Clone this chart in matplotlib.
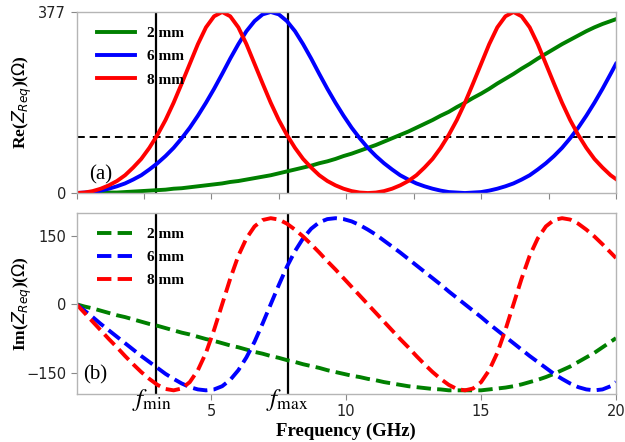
import matplotlib
matplotlib.use("Agg")
import matplotlib.pyplot as plt

# frequency samples (GHz) and impedance
freq = [0, 0.3, 0.6, 0.9, 1.2, 1.5, 1.8, 2.1, 2.4, 2.7, 3.0, 3.3, 3.6, 3.9, 4.2, 4.5,
        4.8, 5.1, 5.4, 5.7, 6.0, 6.3, 6.6, 6.9, 7.2, 7.5, 7.8, 8.1, 8.4, 8.7, 9.0, 9.3,
        9.6, 9.9, 10.2, 10.5, 10.8, 11.1, 11.4, 11.7, 12.0, 12.3, 12.6, 12.9, 13.2, 13.5,
        13.8, 14.1, 14.4, 14.7, 15.0, 15.3, 15.6, 15.9, 16.2, 16.5, 16.8, 17.1, 17.4, 17.7,
        18.0, 18.3, 18.6, 18.9, 19.2, 19.5, 19.8, 20.0]

re_2mm = [0, 0, 0, 1, 1, 1, 2, 3, 4, 5, 6, 7, 9, 10, 12, 14, 16, 18, 20, 23, 25, 28, 31, 34,
          37, 41, 45, 49, 53, 57, 62, 66, 71, 77, 82, 88, 94, 100, 107, 114, 121, 128, 136,
          144, 152, 161, 169, 179, 188, 198, 207, 217, 228, 238, 248, 259, 269, 280, 290,
          300, 310, 319, 328, 337, 345, 352, 358, 362]
re_6mm = [0, 1, 2, 5, 9, 14, 20, 28, 37, 49, 62, 77, 94, 114, 136, 161, 188, 217, 248, 280,
          310, 337, 358, 372, 377, 372, 358, 337, 310, 280, 248, 217, 188, 161, 136, 114, 94,
          77, 62, 49, 37, 28, 20, 14, 9, 5, 2, 1, 0, 1, 2, 5, 9, 14, 20, 28, 37, 49, 62, 77,
          94, 114, 136, 161, 188, 217, 248, 269]
re_8mm = [0, 1, 4, 9, 16, 25, 37, 53, 71, 94, 121, 152, 188, 228, 269, 310, 345, 368, 377,
          368, 345, 310, 269, 228, 188, 152, 121, 94, 71, 53, 37, 25, 16, 9, 4, 1, 0, 1, 4, 9,
          16, 25, 37, 53, 71, 94, 121, 152, 188, 228, 269, 310, 345, 368, 377, 368, 345, 310,
          269, 228, 188, 152, 121, 94, 71, 53, 37, 29]

im_2mm = [0, -5, -9, -14, -19, -24, -28, -33, -38, -43, -47, -52, -57, -62, -66, -71, -76,
          -80, -85, -90, -94, -99, -104, -108, -113, -117, -122, -126, -131, -135, -139, -144,
          -148, -152, -156, -159, -163, -166, -170, -173, -176, -179, -181, -183, -185, -186,
          -188, -188, -188, -188, -188, -186, -184, -182, -179, -175, -170, -165, -159, -152,
          -144, -136, -126, -116, -106, -94, -82, -74]
im_6mm = [0, -14, -28, -43, -57, -71, -85, -99, -113, -126, -139, -152, -163, -173, -181,
          -186, -188, -186, -179, -165, -144, -116, -82, -42, 0, 42, 82, 116, 144, 165, 179,
          186, 188, 186, 181, 173, 163, 152, 139, 126, 113, 99, 85, 71, 57, 43, 28, 14, 0,
          -14, -28, -43, -57, -71, -85, -99, -113, -126, -139, -152, -163, -173, -181, -186,
          -188, -186, -179, -170]
im_8mm = [0, -19, -38, -57, -76, -94, -113, -131, -148, -163, -176, -185, -188, -184, -170,
          -144, -106, -56, 0, 56, 106, 144, 170, 184, 188, 185, 176, 163, 148, 131, 113, 94,
          76, 57, 38, 19, 0, -19, -38, -57, -76, -94, -113, -131, -148, -163, -176, -185,
          -188, -184, -170, -144, -106, -56, 0, 56, 106, 144, 170, 184, 188, 185, 176, 163,
          148, 131, 113, 101]

labels = ["2 mm", "6 mm", "8 mm"]
colors = ["green", "blue", "red"]
f_min = 2.96
f_max = 7.84
re_level = 117

serif = "Liberation Serif"
spine_col = "#b5b5b5"
leg_font = {"family": serif, "weight": "bold", "size": 11}

fig = plt.figure(figsize=(6.25, 4.42), dpi=100)
ax1 = fig.add_axes([0.1224, 0.5633, 0.8632, 0.4096])
ax2 = fig.add_axes([0.1224, 0.1086, 0.8632, 0.4102])

for ax in (ax1, ax2):
    for s in ax.spines.values():
        s.set_color(spine_col)
        s.set_linewidth(1.0)
    ax.tick_params(colors="#888888", labelcolor="#222222", labelsize=10.5, length=4, width=0.8)
    ax.set_xlim(0, 20)
    ax.axvline(f_min, color="black", lw=1.6, zorder=1)
    ax.axvline(f_max, color="black", lw=1.6, zorder=1)

# (a) real part
for re, lab, c in zip([re_2mm, re_6mm, re_8mm], labels, colors):
    ax1.plot(freq, re, color=c, lw=2.8, label=lab)
ax1.axhline(re_level, color="black", lw=1.4, ls=(0, (4, 2.5)), zorder=1)
ax1.set_ylim(0, 377)
ax1.set_yticks([0, 377])
ax1.set_xticks([0, 2.5, 5, 7.5, 10, 12.5, 15, 17.5, 20])
ax1.set_xticklabels([])
ax1.set_ylabel(r"Re($Z_{Req}$)($\Omega$)", fontfamily=serif, fontweight="bold", fontsize=12.5)
ax1.yaxis.set_label_coords(-0.078, 0.5)
ax1.text(0.9, 38, "(a)", fontfamily=serif, fontsize=15, ha="center", va="center")
ax1.legend(loc="upper left", bbox_to_anchor=(0.012, 0.995), frameon=False, handlelength=2.5,
           handletextpad=0.8, labelspacing=0.62, prop=leg_font)

# (b) imaginary part
for im, lab, c in zip([im_2mm, im_6mm, im_8mm], labels, colors):
    ax2.plot(freq, im, color=c, lw=2.8, ls="--", label=lab)
ax2.set_ylim(-196, 200)
ax2.set_yticks([-150, 0, 150])
ax2.set_xticks([5, 10, 15, 20])
ax2.set_ylabel(r"Im($Z_{Req}$)($\Omega$)", fontfamily=serif, fontweight="bold", fontsize=12.5)
ax2.yaxis.set_label_coords(-0.078, 0.5)
ax2.text(0.7, -155, "(b)", fontfamily=serif, fontsize=15, ha="center", va="center")
ax2.legend(loc="upper left", bbox_to_anchor=(0.012, 0.995), frameon=False, handlelength=2.5,
           handletextpad=0.8, labelspacing=0.62, prop=leg_font)
ax2.set_xlabel("Frequency (GHz)", fontfamily=serif, fontweight="bold", fontsize=13.5, labelpad=2)

tr = ax2.get_xaxis_transform()
ax2.text(f_min - 0.92, -0.065, r"$f_{\mathrm{min}}$", transform=tr, fontsize=18,
         math_fontfamily="stix", ha="left", va="baseline")
ax2.text(f_max - 0.8, -0.065, r"$f_{\mathrm{max}}$", transform=tr, fontsize=18,
         math_fontfamily="stix", ha="left", va="baseline")

fig.savefig("out.png", dpi=100)
